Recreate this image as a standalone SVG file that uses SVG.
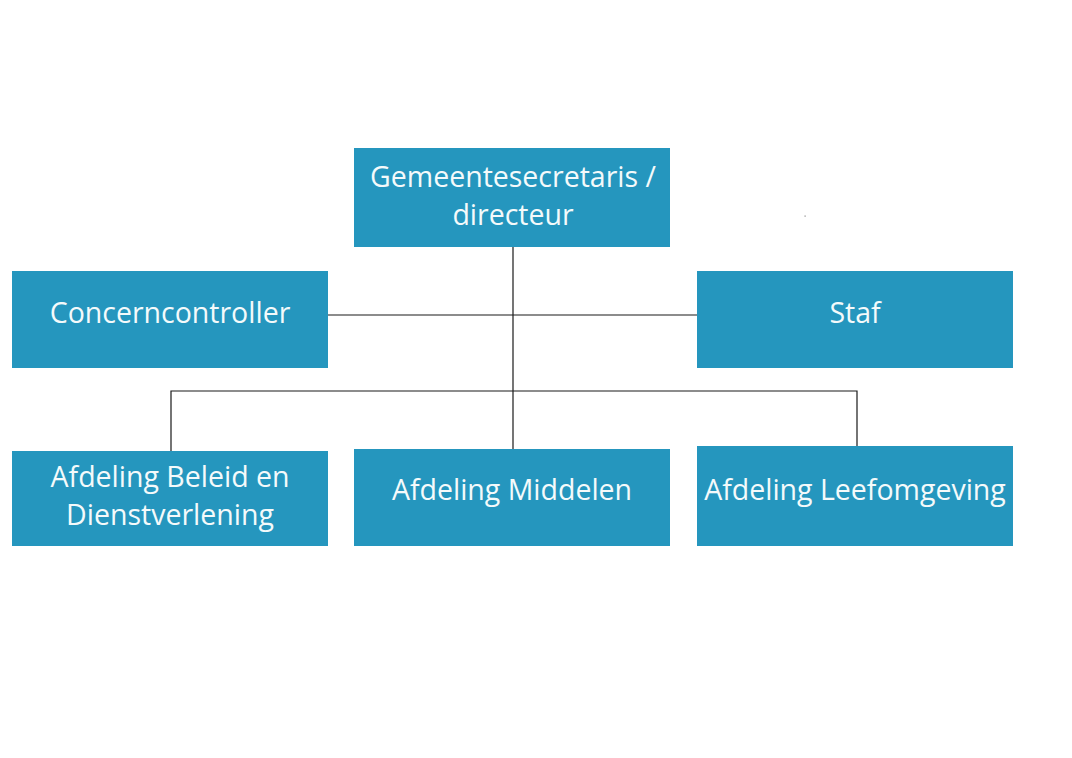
<svg xmlns="http://www.w3.org/2000/svg" width="1072" height="758" viewBox="0 0 1072 758">
<style>
.box{fill:#2596be;}
.t{font-family:"Open Sans","Noto Sans",sans-serif;font-size:28.5px;fill:#f4fafb;text-anchor:middle;}
.c{stroke:#1a1a1a;stroke-width:1.2;fill:none;}
</style>
<rect width="1072" height="758" fill="#ffffff"/>
<g id="connectors">
<path class="c" d="M513,247 V449"/>
<path class="c" d="M328,315 H697"/>
<path class="c" d="M171,451 V391 H857 V446"/>
</g>
<g id="n-gemeentesecretaris"><rect class="box" x="354" y="148" width="316" height="99"/><text class="t" x="513" y="187">Gemeentesecretaris /</text><text class="t" x="513" y="225">directeur</text></g>
<g id="n-concerncontroller"><rect class="box" x="12" y="271" width="316" height="97"/><text class="t" x="170" y="323">Concerncontroller</text></g>
<g id="n-staf"><rect class="box" x="697" y="271" width="316" height="97"/><text class="t" x="855" y="323">Staf</text></g>
<g id="n-beleid"><rect class="box" x="12" y="451" width="316" height="95"/><text class="t" x="170" y="487">Afdeling Beleid en</text><text class="t" x="170" y="525">Dienstverlening</text></g>
<g id="n-middelen"><rect class="box" x="354" y="449" width="316" height="97"/><text class="t" x="512" y="500">Afdeling Middelen</text></g>
<g id="n-leefomgeving"><rect class="box" x="697" y="446" width="316" height="100"/><text class="t" x="855" y="500">Afdeling Leefomgeving</text></g>
<rect x="804.5" y="215.5" width="1.2" height="1.2" fill="#888888"/>
</svg>
